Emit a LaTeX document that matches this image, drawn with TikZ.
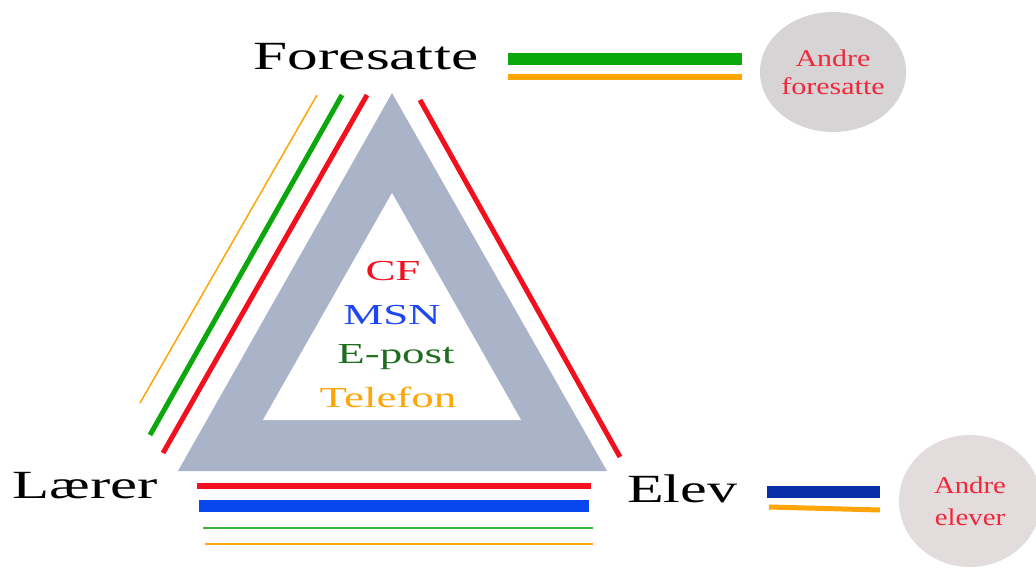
\documentclass[tikz,border=0pt]{standalone}
\usepackage{fontspec}
\setmainfont{Liberation Serif}
\usetikzlibrary{shapes.geometric}

\definecolor{triGray}{RGB}{170,180,200}
\definecolor{chRed}{RGB}{242,16,30}
\definecolor{chGreen}{RGB}{10,168,10}
\definecolor{chGreenThin}{RGB}{60,180,60}
\definecolor{chBlue}{RGB}{8,70,240}
\definecolor{chNavy}{RGB}{10,45,170}
\definecolor{chOrange}{RGB}{255,165,10}
\definecolor{txtBlue}{RGB}{30,70,245}
\definecolor{txtGreen}{RGB}{30,110,30}
\definecolor{bubbleA}{RGB}{214,212,212}
\definecolor{bubbleB}{RGB}{226,220,221}
\definecolor{bubbleTxt}{RGB}{240,40,60}

\tikzset{
  actor/.style={anchor=base, inner sep=0pt, font=\fontsize{40}{48}\selectfont},
  medium/.style={anchor=base, inner sep=0pt, font=\fontsize{29}{34}\selectfont},
  bubble/.style={ellipse, inner sep=0pt, draw=none, text=bubbleTxt, align=center},
  chan/.style={line cap=butt},
}
\newcommand{\wide}[2]{\scalebox{#1}[1]{#2}}

\begin{document}
\begin{tikzpicture}[x=1pt, y=-1pt]
  \useasboundingbox[fill=white] (0,0) rectangle (1036,572);

  % central triangle frame
  \fill[triGray] (392,93) -- (607,471) -- (178,471) -- cycle;
  \fill[white] (392,193) -- (521,420) -- (263,420) -- cycle;

  % communication media inside the triangle
  \node[medium, text=chRed]    (cf)   at (393,280) {\wide{1.55}{CF}};
  \node[medium, text=txtBlue]  (msn)  at (392,324) {\wide{1.55}{MSN}};
  \node[medium, text=txtGreen] (post) at (396,363) {\wide{1.55}{E-post}};
  \node[medium, text=chOrange] (tlf)  at (388,407) {\wide{1.55}{Telefon}};

  % actors
  \node[actor] (fores) at (366,70)  {\wide{1.53}{Foresatte}};
  \node[actor] (laer)  at (85,498)  {\wide{1.52}{Lærer}};
  \node[actor] (elev)  at (682,502) {\wide{1.5}{Elev}};

  % other parents / other pupils
  \node[bubble, fill=bubbleA, minimum width=133pt, minimum height=120pt,
        font=\fontsize{24}{28}\selectfont]
    (andreF) at (833,72) {\wide{1.25}{Andre}\\\wide{1.25}{foresatte}};
  \node[bubble, fill=bubbleB, minimum width=142pt, minimum height=132pt,
        font=\fontsize{24}{32}\selectfont]
    (andreE) at (970,501) {\wide{1.2}{Andre}\\\wide{1.2}{elever}};

  % channels Lærer -- Foresatte
  \draw[chan, chOrange, line width=1.5pt] (317,95) -- (140,403);
  \draw[chan, chGreen,  line width=5pt]   (342,95) -- (150,435);
  \draw[chan, chRed,    line width=5pt]   (367,95) -- (163,453);

  % channel Foresatte -- Elev
  \draw[chan, chRed, line width=5pt] (420,100) -- (620,457);

  % channels Lærer -- Elev
  \draw[chan, chRed,        line width=6pt]  (197,486) -- (591,486);
  \draw[chan, chBlue,       line width=12pt] (199,506) -- (589,506);
  \draw[chan, chGreenThin,  line width=2pt]  (203,528) -- (593,528);
  \draw[chan, chOrange,     line width=2pt]  (205,544) -- (593,544);

  % channels Foresatte -- Andre foresatte
  \draw[chan, chGreen,  line width=12pt] (508,59) -- (742,59);
  \draw[chan, chOrange, line width=6pt]  (508,77) -- (742,77);

  % channels Elev -- Andre elever
  \draw[chan, chNavy,   line width=12pt] (767,492) -- (880,492);
  \draw[chan, chOrange, line width=5pt]  (769,507) -- (880,510);
\end{tikzpicture}
\end{document}
